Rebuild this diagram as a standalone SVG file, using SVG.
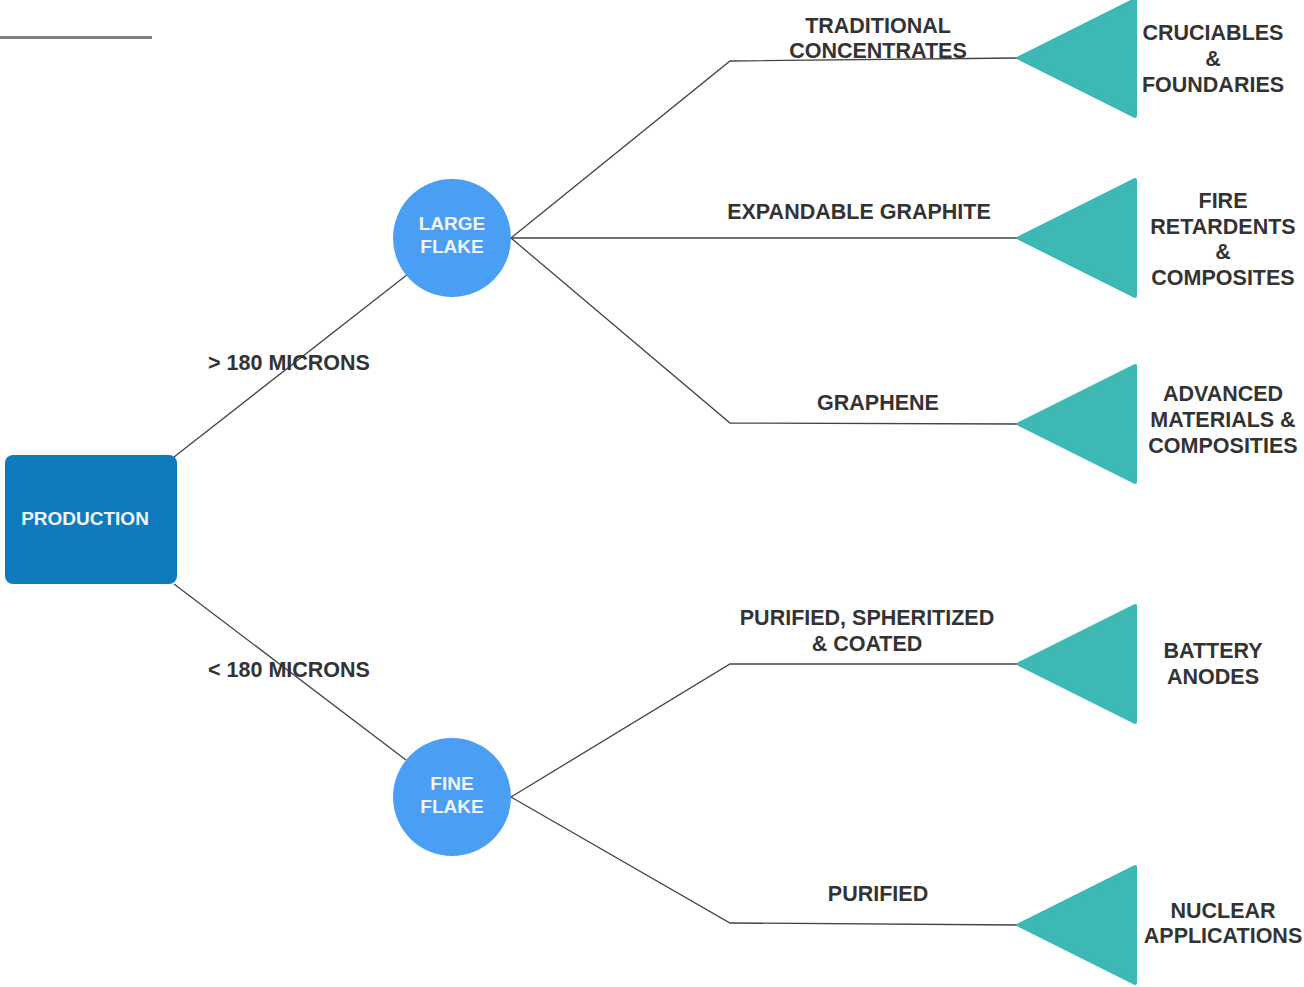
<svg xmlns="http://www.w3.org/2000/svg" width="1304" height="987" viewBox="0 0 1304 987">
<style>
.lbl{font-family:"Liberation Sans",Arial,sans-serif;font-weight:bold;font-size:21.5px;fill:#333;text-anchor:middle}
.wht{font-family:"Liberation Sans",Arial,sans-serif;font-weight:bold;font-size:19px;fill:#f2f6fb;text-anchor:middle}
.con{fill:none;stroke:#444;stroke-width:1.3}
.tri{fill:#3db8b5;stroke:#3db8b5;stroke-width:4;stroke-linejoin:round}
</style>
<rect width="1304" height="987" fill="#fff"/>
<line x1="0" y1="37.5" x2="152" y2="37.5" stroke="#808080" stroke-width="3"/>
<g id="connectors">
<line class="con" x1="174" y1="457" x2="408" y2="274"/>
<line class="con" x1="174" y1="584" x2="406" y2="760"/>
<polyline class="con" points="511,238 730,61 1017,58"/>
<line class="con" x1="511" y1="238" x2="1017" y2="238"/>
<polyline class="con" points="511,238 730,423 1017,424"/>
<polyline class="con" points="511,797 730,664 1017,664"/>
<polyline class="con" points="511,797 730,923 1017,925"/>
</g>
<g id="production">
<rect x="5" y="455" width="172" height="129" rx="8" fill="#0f7bbf"/>
<text class="wht" x="85" y="524.5">PRODUCTION</text>
</g>
<g id="large-flake">
<circle cx="452" cy="238" r="59" fill="#4a9ff5"/>
<text class="wht" x="452" y="230">LARGE</text>
<text class="wht" x="452" y="253">FLAKE</text>
</g>
<g id="fine-flake">
<circle cx="452" cy="797" r="59" fill="#4a9ff5"/>
<text class="wht" x="452" y="790">FINE</text>
<text class="wht" x="452" y="813">FLAKE</text>
</g>
<g id="label-gt180"><text class="lbl" x="289" y="369.5">&gt; 180 MICRONS</text></g>
<g id="label-lt180"><text class="lbl" x="289" y="676.5">&lt; 180 MICRONS</text></g>
<g id="label-traditional">
<text class="lbl" x="878" y="32.5">TRADITIONAL</text>
<text class="lbl" x="878" y="57.5">CONCENTRATES</text>
</g>
<g id="label-expandable"><text class="lbl" x="859" y="218.5">EXPANDABLE GRAPHITE</text></g>
<g id="label-graphene"><text class="lbl" x="878" y="409.5">GRAPHENE</text></g>
<g id="label-purified-sph">
<text class="lbl" x="867" y="624.5">PURIFIED, SPHERITIZED</text>
<text class="lbl" x="867" y="650.5">&amp; COATED</text>
</g>
<g id="label-purified"><text class="lbl" x="878" y="900.5">PURIFIED</text></g>
<g id="out-cruciables">
<polygon class="tri" points="1019,58 1135,0 1135,116"/>
<text class="lbl" x="1213" y="39.5">CRUCIABLES</text>
<text class="lbl" x="1213" y="65.5">&amp;</text>
<text class="lbl" x="1213" y="91.5">FOUNDARIES</text>
</g>
<g id="out-fire">
<polygon class="tri" points="1019,238 1135,180 1135,296"/>
<text class="lbl" x="1223" y="207.5">FIRE</text>
<text class="lbl" x="1223" y="233.5">RETARDENTS</text>
<text class="lbl" x="1223" y="258.5">&amp;</text>
<text class="lbl" x="1223" y="284.5">COMPOSITES</text>
</g>
<g id="out-advanced">
<polygon class="tri" points="1019,424 1135,366 1135,482"/>
<text class="lbl" x="1223" y="400.5">ADVANCED</text>
<text class="lbl" x="1223" y="426.5">MATERIALS &amp;</text>
<text class="lbl" x="1223" y="452.5">COMPOSITIES</text>
</g>
<g id="out-battery">
<polygon class="tri" points="1019,664 1135,606 1135,722"/>
<text class="lbl" x="1213" y="657.5">BATTERY</text>
<text class="lbl" x="1213" y="683.5">ANODES</text>
</g>
<g id="out-nuclear">
<polygon class="tri" points="1019,925 1135,867 1135,983"/>
<text class="lbl" x="1223" y="917.5">NUCLEAR</text>
<text class="lbl" x="1223" y="942.5">APPLICATIONS</text>
</g>
</svg>
